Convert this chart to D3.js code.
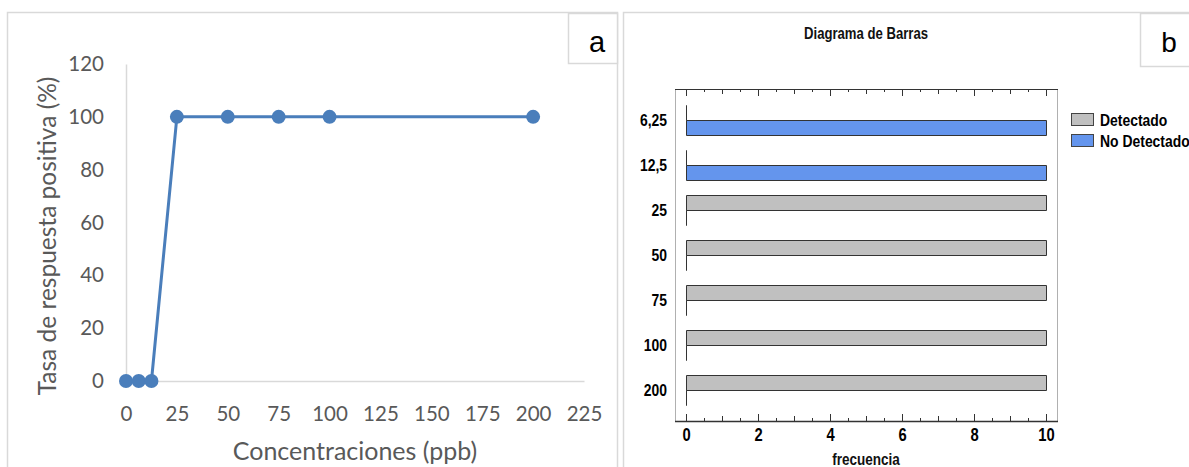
<!DOCTYPE html>
<html>
<head>
<meta charset="utf-8">
<script src="https://cdn.jsdelivr.net/npm/d3@7"></script>
<style>
  html, body { margin: 0; padding: 0; background: #fff; }
  svg { display: block; }
</style>
</head>
<body>
<svg id="chart" width="1189" height="467"></svg>
<script>
// ---- Panel a: positive response rate by concentration ----
const concentrations = [0, 6.25, 12.5, 25, 50, 75, 100, 200];
const responseRate = [0, 0, 0, 100, 100, 100, 100, 100];
const xTicksA = [0, 25, 50, 75, 100, 125, 150, 175, 200, 225];
const yTicksA = [0, 20, 40, 60, 80, 100, 120];

// ---- Panel b: bar diagram of detection frequency ----
const categoriesB = ["6,25", "12,5", "25", "50", "75", "100", "200"];
const seriesB = ["Detectado", "No Detectado"];
const detectado = [0, 0, 10, 10, 10, 10, 10];
const noDetectado = [10, 10, 0, 0, 0, 0, 0];
const xTicksB = [0, 2, 4, 6, 8, 10];

const svg = d3.select("#chart");
const lightGrey = "#d9d9d9";
const textGrey = "#595959";
const fontA = "Lato, 'Open Sans', sans-serif";
const fontB = "'Liberation Sans', Arial, sans-serif";
const narrow = 0.82; // horizontal squeeze for the narrow bold labels of panel b

// text helper: a horizontally condensed bold label anchored at (x, y)
function narrowText(parent, x, y, str, size, anchor) {
  return parent.append("text")
    .attr("transform", `translate(${x},${y}) scale(${narrow},1)`)
    .attr("text-anchor", anchor || "start")
    .attr("font-family", fontB).attr("font-weight", "bold")
    .attr("font-size", size).attr("fill", "#000").text(str);
}

// Panel frames
svg.append("path")
  .attr("d", "M7.5,470 V12.5 H617.5 V470")
  .attr("fill", "none").attr("stroke", lightGrey).attr("stroke-width", 1.5);
svg.append("rect")
  .attr("x", 568.5).attr("y", 13.5).attr("width", 49).attr("height", 50)
  .attr("fill", "#fff").attr("stroke", lightGrey).attr("stroke-width", 1.5);
svg.append("text").attr("x", 597).attr("y", 52)
  .attr("text-anchor", "middle").attr("font-family", "'Liberation Sans', Arial, sans-serif")
  .attr("font-size", 29).attr("fill", "#000").text("a");

svg.append("path")
  .attr("d", "M623.5,470 V12.5 H1192")
  .attr("fill", "none").attr("stroke", lightGrey).attr("stroke-width", 1.5);
svg.append("rect")
  .attr("x", 1140.5).attr("y", 13.5).attr("width", 60).attr("height", 53)
  .attr("fill", "#fff").attr("stroke", lightGrey).attr("stroke-width", 1.5);
svg.append("text").attr("x", 1169).attr("y", 52)
  .attr("text-anchor", "middle").attr("font-family", "'Liberation Sans', Arial, sans-serif")
  .attr("font-size", 28).attr("fill", "#000").text("b");

// ===== Panel a =====
const xA = d3.scaleLinear().domain([0, 225]).range([126, 584]);
const yA = d3.scaleLinear().domain([0, 120]).range([381, 64]);

const gA = svg.append("g");

const yAxisA = gA.append("g").attr("transform", `translate(${xA(0)},0)`)
  .call(d3.axisLeft(yA).tickValues(yTicksA).tickSize(0).tickPadding(22));
const xAxisA = gA.append("g").attr("transform", `translate(0,${yA(0)})`)
  .call(d3.axisBottom(xA).tickValues(xTicksA).tickSize(0).tickPadding(25));
[yAxisA, xAxisA].forEach(ax => {
  ax.select(".domain").attr("stroke", lightGrey).attr("stroke-width", 1.5);
  ax.selectAll("text").attr("font-family", fontA).attr("font-size", 20.5).attr("fill", textGrey);
});

const line = d3.line().x((d, i) => xA(concentrations[i])).y(d => yA(d));
gA.append("path").datum(responseRate)
  .attr("d", line).attr("fill", "none")
  .attr("stroke", "#4a7ebb").attr("stroke-width", 3).attr("stroke-linejoin", "round");
gA.selectAll("circle.pt").data(responseRate).join("circle")
  .attr("class", "pt")
  .attr("cx", (d, i) => xA(concentrations[i])).attr("cy", d => yA(d))
  .attr("r", 7).attr("fill", "#4a7ebb");

gA.append("text").attr("x", 355).attr("y", 460)
  .attr("text-anchor", "middle").attr("font-family", fontA).attr("font-size", 25)
  .attr("fill", textGrey).text("Concentraciones (ppb)");
gA.append("text").attr("transform", "translate(56,236) rotate(-90)")
  .attr("text-anchor", "middle").attr("font-family", fontA).attr("font-size", 24.5)
  .attr("fill", textGrey).text("Tasa de respuesta positiva (%)");

// ===== Panel b =====
const xB = d3.scaleLinear().domain([0, 10]).range([686, 1046]);
const yB = d3.scaleBand().domain(categoriesB).range([105, 420]);
const slot = d3.scaleBand().domain(seriesB).range([0, 30]);
const colorB = d3.scaleOrdinal().domain(seriesB).range(["#c0c0c0", "#6495ed"]);

const gB = svg.append("g");
narrowText(gB, 866, 39, "Diagrama de Barras", 16, "middle").attr("fill", "#111");

const frameL = 675, frameR = 1057, frameT = 89, frameB = 421;
gB.append("rect")
  .attr("x", frameL + 0.5).attr("y", frameT + 0.5)
  .attr("width", frameR - frameL).attr("height", frameB - frameT)
  .attr("fill", "none").attr("stroke", "#b0b0b0").attr("stroke-width", 1);
gB.append("line").attr("x1", frameL).attr("x2", frameR + 1)
  .attr("y1", frameT + 0.5).attr("y2", frameT + 0.5).attr("stroke", "#333");

// ticks every half unit along the top and bottom edges, pointing inward
const tickVals = d3.range(0, 10.01, 0.5);
const tickLen = v => (v % 2 === 0 ? 7 : (v % 1 === 0 ? 5 : 3));
gB.append("g").attr("transform", `translate(0,${frameB})`)
  .call(d3.axisBottom(xB).tickValues(tickVals).tickSizeOuter(0).tickSizeInner(0).tickFormat(""))
  .call(g => g.select(".domain").remove())
  .call(g => g.selectAll(".tick line").attr("y2", d => -tickLen(d)).attr("stroke", "#333"));
gB.append("g").attr("transform", `translate(0,${frameT})`)
  .call(d3.axisTop(xB).tickValues(tickVals).tickSizeOuter(0).tickSizeInner(0).tickFormat(""))
  .call(g => g.select(".domain").remove())
  .call(g => g.selectAll(".tick line").attr("y2", d => tickLen(d)).attr("stroke", "#333"));
gB.append("line").attr("x1", frameL).attr("x2", frameR + 1)
  .attr("y1", frameB + 0.5).attr("y2", frameB + 0.5).attr("stroke", "#333").attr("stroke-width", 1.5);

// x tick labels
const xAxisB = gB.append("g").attr("transform", `translate(0,${frameB})`)
  .call(d3.axisBottom(xB).tickValues(xTicksB).tickSize(0).tickPadding(7));
xAxisB.select(".domain").remove();
xAxisB.selectAll("text")
  .attr("transform", `scale(${narrow},1)`)
  .attr("font-family", fontB).attr("font-weight", "bold")
  .attr("font-size", 18).attr("fill", "#000");

narrowText(gB, 866, 465, "frecuencia", 16.5, "middle").attr("fill", "#111");

// category labels, centred between the two series slots
categoriesB.forEach(c => {
  narrowText(gB, 667, yB(c) + slot.bandwidth(), c, 17, "end").attr("dy", "0.36em");
});

// bars drawn as outlined paths so that zero-valued entries still show as a baseline stroke
const barRows = [];
categoriesB.forEach((c, i) => {
  barRows.push({ cat: c, series: "Detectado", value: detectado[i] });
  barRows.push({ cat: c, series: "No Detectado", value: noDetectado[i] });
});
gB.append("g").selectAll("path").data(barRows).join("path")
  .attr("d", d => {
    const x0 = xB(0) + 0.5, x1 = xB(d.value) + 0.5;
    const y0 = yB(d.cat) + slot(d.series) + 0.5, h = slot.bandwidth();
    return `M${x0},${y0}H${x1}V${y0 + h}H${x0}Z`;
  })
  .attr("fill", d => colorB(d.series))
  .attr("stroke", "#333").attr("stroke-width", 1);

// legend
const legend = gB.append("g").selectAll("g").data(seriesB).join("g")
  .attr("transform", (d, i) => `translate(1071,${113 + i * 21})`);
legend.append("rect").attr("x", 0.5).attr("y", 0.5).attr("width", 22).attr("height", 12)
  .attr("fill", d => colorB(d)).attr("stroke", "#444");
legend.each(function (d) {
  narrowText(d3.select(this), 29, 7, d, 17, "start").attr("dy", "0.36em");
});
</script>
</body>
</html>
